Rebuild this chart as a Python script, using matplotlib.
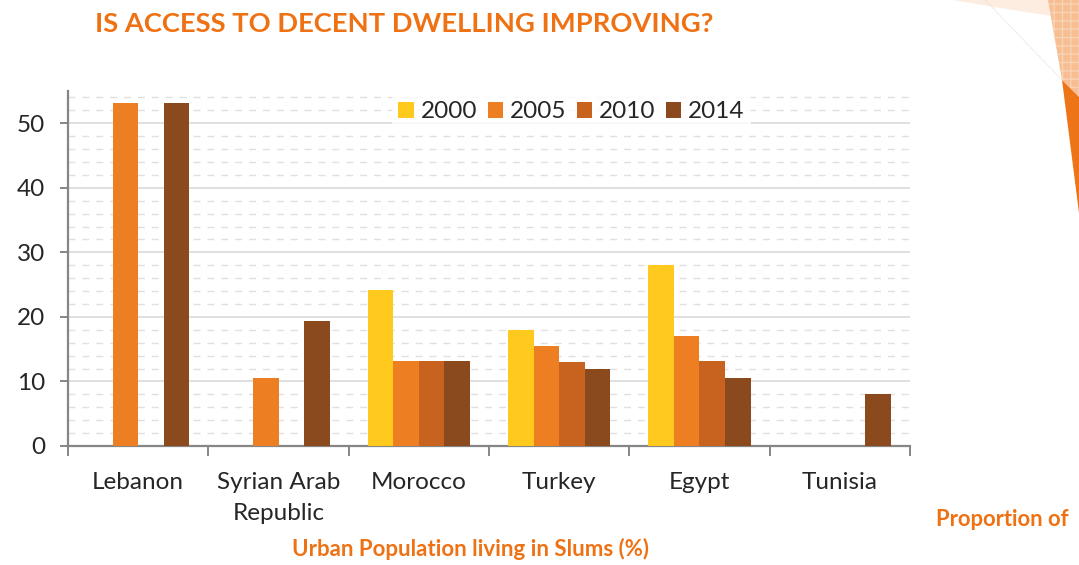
import numpy as np
import matplotlib
matplotlib.use("Agg")
import matplotlib.pyplot as plt
from matplotlib.patches import Polygon, Patch

# ---- data -------------------------------------------------------------
categories = ["Lebanon", "Syrian Arab\nRepublic", "Morocco", "Turkey", "Egypt", "Tunisia"]
years = ["2000", "2005", "2010", "2014"]
nan = np.nan
v2000 = [nan, nan, 24.1, 17.9, 28.0, nan]
v2005 = [53.1, 10.5, 13.1, 15.5, 17.1, nan]
v2010 = [nan, nan, 13.1, 13.0, 13.1, nan]
v2014 = [53.1, 19.3, 13.1, 11.9, 10.5, 8.0]
yticks = [0, 10, 20, 30, 40, 50]

series = [v2000, v2005, v2010, v2014]
colors = ["#FFC91D", "#EE7E22", "#C8631F", "#8B4A1E"]
ORANGE = "#EE7214"
FONT = "Lato"
LABEL_SIZE = 17.5

W, H = 1079, 565
fig = plt.figure(figsize=(W / 100, H / 100), dpi=100)

# ---- background decoration (pixel space overlay) ------------------------
bg = fig.add_axes([0, 0, 1, 1], zorder=0)
bg.set_xlim(0, W)
bg.set_ylim(H, 0)
bg.axis("off")
bg.add_patch(Polygon([(953, 0), (1048, 0), (1052, 16), (1000, 8)],
                     closed=True, facecolor="#FDEDE0", edgecolor="none"))
bg.add_patch(Polygon([(1048, 0), (1079, 0), (1079, 97), (1062, 80)],
                     closed=True, facecolor="#F6BE92", edgecolor="#F9D3B5",
                     hatch="++", linewidth=0))
bg.add_patch(Polygon([(1062, 80), (1079, 97), (1079, 213)],
                     closed=True, facecolor="#EE7418", edgecolor="none"))
bg.plot([985, 1062], [0, 80], color="#D8D8D8", lw=0.6, ls=(0, (1, 1)))

# ---- chart -------------------------------------------------------------
ax = fig.add_axes([68 / W, 1 - 446 / H, (910 - 68) / W, (446 - 91) / H], zorder=1)
ax.patch.set_alpha(0)

x = np.arange(len(categories))
bw = 0.182
for i, (vals, c) in enumerate(zip(series, colors)):
    ax.bar(x + (i - 1.5) * bw, vals, width=bw, color=c, zorder=3, linewidth=0)

ax.set_xlim(-0.5, len(categories) - 0.5)
ax.set_ylim(0, 55)

# gridlines: solid at major, dashed at minor
ax.set_yticks(yticks)
ax.set_yticks(np.arange(2, 55, 2), minor=True)
ax.yaxis.grid(True, which="major", color="#DADADA", lw=1.2, zorder=0)
ax.yaxis.grid(True, which="minor", color="#E0E0E0", lw=1.0, ls=(0, (5, 5)), zorder=0)
ax.tick_params(axis="y", which="minor", length=0)
ax.tick_params(axis="y", which="major", length=6, width=1.4, color="#868686",
               pad=10.5, labelsize=LABEL_SIZE, labelcolor="#262626")
for lbl in ax.get_yticklabels():
    lbl.set_fontfamily(FONT)

# x: ticks at category boundaries, labels at centres
ax.set_xticks(np.arange(-0.5, len(categories), 1))
ax.set_xticklabels([])
ax.set_xticks(x, minor=True)
ax.set_xticklabels(categories, minor=True, fontsize=LABEL_SIZE, fontfamily=FONT,
                   color="#262626", linespacing=1.6)
ax.tick_params(axis="x", which="major", length=7, width=1.4, color="#868686")
ax.tick_params(axis="x", which="minor", length=0, pad=18.5)

for side in ("top", "right"):
    ax.spines[side].set_visible(False)
for side in ("left", "bottom"):
    ax.spines[side].set_color("#868686")
    ax.spines[side].set_linewidth(1.6)

handles = [Patch(facecolor=c, edgecolor="none") for c in colors]
leg = ax.legend(handles, years, loc="center", bbox_to_anchor=(571.5 / W, 1 - 112 / H),
                bbox_transform=fig.transFigure, ncol=4, frameon=True,
                prop={"family": FONT, "size": LABEL_SIZE}, handlelength=0.62,
                handleheight=0.62, handletextpad=0.3, columnspacing=0.42,
                borderpad=0.25, fancybox=False)
leg.get_frame().set_facecolor("white")
leg.get_frame().set_edgecolor("none")
for t in leg.get_texts():
    t.set_color("#262626")

# ---- titles ------------------------------------------------------------
fig.text(95 / W, 1 - 24 / H, "IS ACCESS TO DECENT DWELLING IMPROVING?",
         fontsize=19.7, fontweight="bold", fontfamily=FONT, color=ORANGE,
         ha="left", va="center")
fig.text(1068 / W, 1 - 520 / H, "Proportion of", fontsize=15.8,
         fontweight="bold", fontfamily=FONT, color=ORANGE, ha="right", va="center")
fig.text(471 / W, 1 - 549 / H, "Urban Population living in Slums (%)", fontsize=16,
         fontweight="bold", fontfamily=FONT, color=ORANGE, ha="center", va="center")

fig.savefig("out.png", dpi=100)
